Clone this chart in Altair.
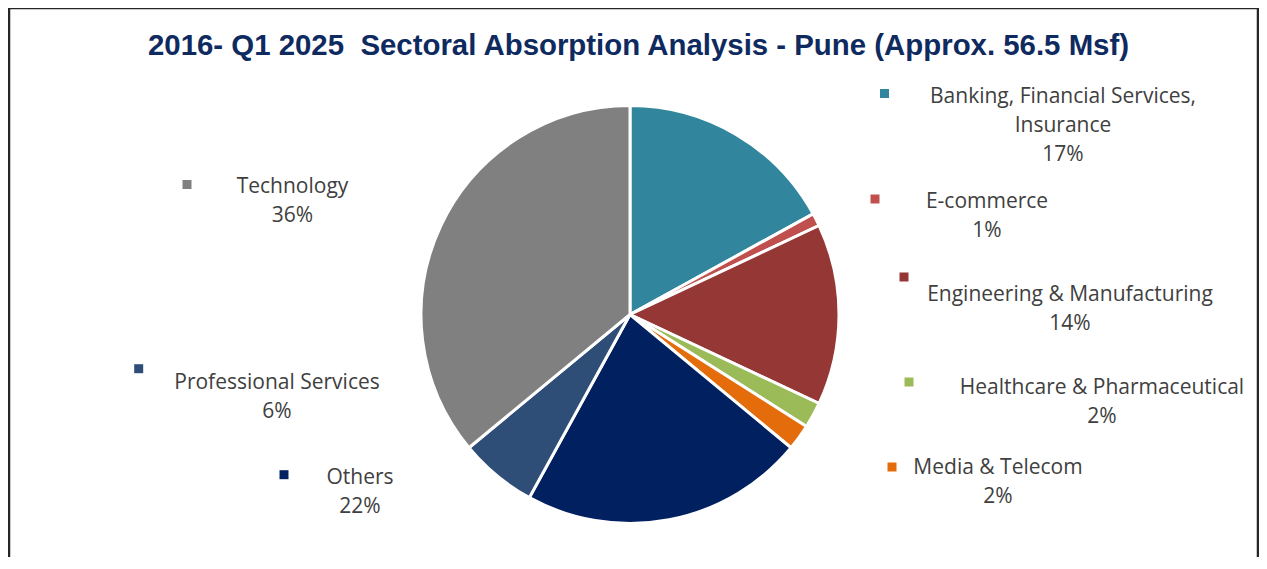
import altair as alt
import pandas as pd
import numpy as np

# ---- data ----
sectors = [
    "Banking, Financial Services, Insurance",
    "E-commerce",
    "Engineering & Manufacturing",
    "Healthcare & Pharmaceutical",
    "Media & Telecom",
    "Others",
    "Professional Services",
    "Technology",
]
label_lines = [
    ["Banking, Financial Services,", "Insurance"],
    ["E-commerce"],
    ["Engineering & Manufacturing"],
    ["Healthcare & Pharmaceutical"],
    ["Media & Telecom"],
    ["Others"],
    ["Professional Services"],
    ["Technology"],
]
shares = [17, 1, 14, 2, 2, 22, 6, 36]
colors = ["#31859C", "#C0504D", "#953735", "#9BBB59", "#E46C0A", "#002060", "#2E4D77", "#808080"]
title_text = "2016- Q1 2025\u00a0 Sectoral Absorption Analysis - Pune (Approx. 56.5 Msf)"

# ---- layout (chart pixel coords) ----
W, H = 1251, 549
CX, CY, R = 622, 306.5, 209
# label: x center, first-line baseline
label_pos = [(1055, 95.3), (979, 200.3), (1062, 293), (1094, 386), (990, 466.3),
             (352, 476), (269, 381.3), (284.5, 185.3)]
marker_pos = [(876.5, 85.5), (867, 191), (896, 269), (901, 374), (884, 459),
              (276, 466.7), (130.7, 360.7), (179, 176.5)]

df = pd.DataFrame({"sector": sectors, "share": shares, "order": list(range(len(sectors)))})

color_scale = alt.Scale(domain=sectors, range=colors)

pie = alt.Chart(df).mark_arc(stroke="white", strokeWidth=3, outerRadius=R).encode(
    theta=alt.Theta("share:Q", stack=True),
    color=alt.Color("sector:N", scale=color_scale, legend=None),
    order=alt.Order("order:Q"),
    x=alt.value(CX),
    y=alt.value(CY),
)

lab = pd.DataFrame({
    "sector": sectors,
    "text": ["\n".join(l + [f"{s}%"]) for l, s in zip(label_lines, shares)],
    "lx": [p[0] for p in label_pos],
    "ly": [p[1] for p in label_pos],
    "mx": [p[0] for p in marker_pos],
    "my": [p[1] for p in marker_pos],
})

labels = alt.Chart(lab).mark_text(
    font="Open Sans", fontSize=21, color="#404040", align="center",
    baseline="alphabetic", lineBreak="\n", lineHeight=29,
).encode(
    x=alt.X("lx:Q", scale=None),
    y=alt.Y("ly:Q", scale=None),
    text="text:N",
)

markers = alt.Chart(lab).mark_square(size=81, opacity=1).encode(
    x=alt.X("mx:Q", scale=None),
    y=alt.Y("my:Q", scale=None),
    color=alt.Color("sector:N", scale=color_scale, legend=None),
)

title = alt.Chart(pd.DataFrame({"t": [title_text]})).mark_text(
    font="Liberation Sans", fontSize=29.4, fontWeight="bold", color="#0E2A5F",
    align="center", baseline="alphabetic",
).encode(
    x=alt.value(630.5), y=alt.value(47), text="t:N"
)

frame = alt.Chart(pd.DataFrame({"a": [0]})).mark_rect(
    fill=None, stroke="#262626", strokeWidth=2.5
).encode(
    x=alt.value(1), x2=alt.value(W - 1), y=alt.value(0), y2=alt.value(H + 40)
)

chart = alt.layer(frame, pie, markers, labels, title).properties(
    width=W, height=H, autosize=alt.AutoSizeParams(type="none"), padding=0,
    background="white",
).configure_view(stroke=None)

chart.save("out.html", embed_options={"renderer": "svg", "actions": False})
